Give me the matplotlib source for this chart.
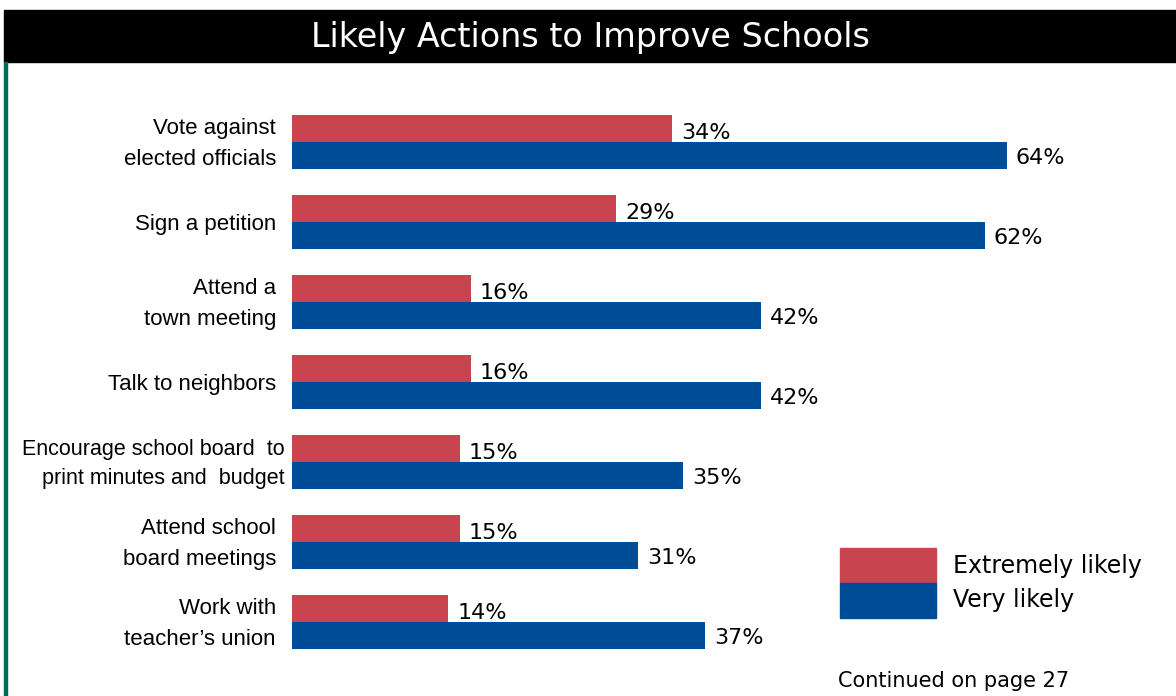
import matplotlib
matplotlib.use("Agg")
import matplotlib.pyplot as plt
from matplotlib.patches import Rectangle
from matplotlib.transforms import blended_transform_factory, offset_copy

# survey results, percent of respondents
actions = ["Vote against\nelected officials", "Sign a petition", "Attend a\ntown meeting",
           "Talk to neighbors", "Encourage school board  to\nprint minutes and  budget",
           "Attend school\nboard meetings", "Work with\nteacher\u2019s union"]
extremely = [34, 29, 16, 16, 15, 15, 14]
very = [64, 62, 42, 42, 35, 31, 37]
series_names = ["Extremely likely", "Very likely"]

RED = "#c84550"
BLUE = "#004d97"
W, H = 1176, 696

fig = plt.figure(figsize=(W / 100, H / 100), dpi=100)
fig.patch.set_facecolor("white")

def px(x, y, w, h):
    # figure-fraction box from pixel coords (top-left origin)
    return (x / W, 1 - (y + h) / H, w / W, h / H)

# black title band and green frame edge
x0, y0, w0, h0 = px(4, 10, 1172, 52)
fig.add_artist(Rectangle((x0, y0), w0, h0, transform=fig.transFigure, color="black", zorder=0))
x0, y0, w0, h0 = px(4, 62, 2.5, 634)
fig.add_artist(Rectangle((x0, y0), w0, h0, transform=fig.transFigure, color="#006a5b", zorder=0))
fig.text(590 / W, 1 - 37 / H, "Likely Actions to Improve Schools", color="white",
         fontsize=24, ha="center", va="center", family="DejaVu Sans")

ax = fig.add_axes(px(292, 62, 884, 634))
ax.set_xlim(0, 884 / 11.17)
ax.set_ylim((696 - 142) / 80, -1)
ax.axis("off")

pos = list(range(len(actions)))
bh = 0.34
ax.barh([p - bh / 2 for p in pos], extremely, height=bh, color=RED, zorder=1)
ax.barh([p + bh / 2 for p in pos], very, height=bh, color=BLUE, zorder=2)

for p, e, v in zip(pos, extremely, very):
    ax.annotate(f"{e}%", (e, p - bh / 2), xytext=(9, -5), textcoords="offset pixels",
                fontsize=16, va="center", ha="left", family="DejaVu Sans", zorder=1.5)
    ax.annotate(f"{v}%", (v, p + bh / 2), xytext=(9, -2), textcoords="offset pixels",
                fontsize=16, va="center", ha="left", family="DejaVu Sans", zorder=3)

tr = offset_copy(blended_transform_factory(ax.transAxes, ax.transData), fig=fig,
                 x=0, y=-2, units="dots")
for p, lab in zip(pos, actions):
    if lab.startswith("Encourage"):
        ax.text(-7 / 884, p, lab, transform=tr, ha="right", va="center", ma="right",
                fontsize=15.5, family=["Liberation Sans Narrow", "Liberation Sans"],
                linespacing=1.5)
    else:
        ax.text(-16 / 884, p, lab, transform=tr, ha="right", va="center", ma="right",
                fontsize=16, family="Liberation Sans", linespacing=1.6)

# legend swatches
for i, (name, col) in enumerate(zip(series_names, [RED, BLUE])):
    x0, y0, w0, h0 = px(840, 548 + 35 * i, 96, 35)
    fig.add_artist(Rectangle((x0, y0), w0, h0, transform=fig.transFigure, color=col))
    fig.text(953 / W, 1 - (566 + 34 * i) / H, name, fontsize=17, va="center",
             family="DejaVu Sans")

fig.text(838 / W, 1 - 681 / H, "Continued on page 27", fontsize=15, va="center",
         family="DejaVu Sans")

fig.savefig("out.png", dpi=100)
